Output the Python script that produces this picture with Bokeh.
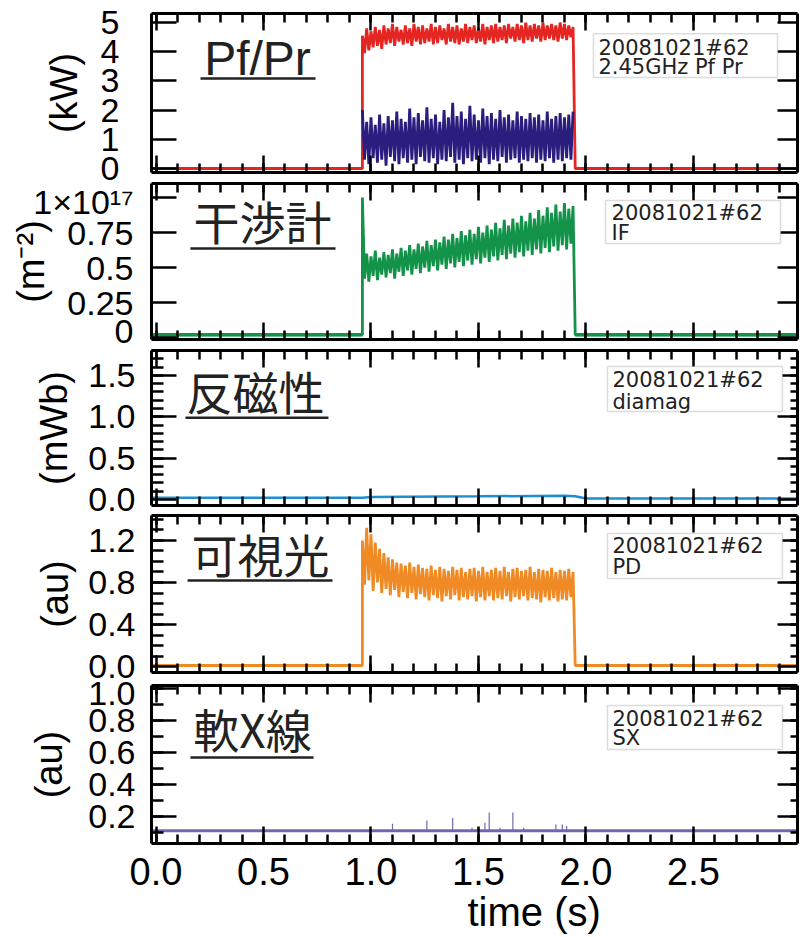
import numpy as np
from bokeh.plotting import figure
from bokeh.layouts import column
from bokeh.models import (Range1d, LinearAxis, FixedTicker, SingleIntervalTicker,
                          PrintfTickFormatter, CustomJSTickFormatter, Label, Title,
                          BoxAnnotation)
from bokeh.embed import file_html
from bokeh.resources import INLINE

# ---------------------------------------------------------------- data ----
SHOT = "20081021#62"

# plasma phase sampled every 10 ms, before/after phases as flat baselines
t_on = np.round(np.arange(0.96, 1.945, 0.01), 2)      # 0.96 ... 1.94 s
t_pre = [-0.021, 0.96]
t_post = [1.95, 2.984]

# 2.45 GHz forward power Pf (kW)
pf_pre = [0.0, 0.0]
pf_on = [
    4.55, 3.95, 4.80, 4.05, 4.70, 4.15, 4.85, 4.20, 4.75, 4.10,
    4.90, 4.25, 4.80, 4.30, 4.95, 4.20, 4.85, 4.35, 4.75, 4.25,
    4.90, 4.30, 4.80, 4.20, 4.95, 4.35, 4.85, 4.25, 4.90, 4.30,
    4.80, 4.35, 4.95, 4.25, 4.85, 4.30, 4.90, 4.40, 4.80, 4.25,
    4.95, 4.35, 4.85, 4.30, 4.90, 4.25, 4.80, 4.35, 4.95, 4.30,
    4.85, 4.40, 4.90, 4.30, 4.80, 4.35, 4.95, 4.25, 4.85, 4.40,
    4.90, 4.30, 4.95, 4.35, 4.85, 4.40, 4.90, 4.30, 4.95, 4.45,
    4.85, 4.35, 4.95, 4.40, 4.90, 4.30, 5.00, 4.40, 4.90, 4.35,
    4.95, 4.45, 4.90, 4.35, 5.00, 4.40, 4.90, 4.45, 4.95, 4.40,
    4.90, 4.35, 5.00, 4.45, 4.95, 4.40, 4.90, 4.50, 4.85,
]
pf_post = [0.0, 0.0]

# reflected power Pr (kW)
pr_on = [
    2.00, 0.30, 1.60, 0.15, 1.75, 0.35, 1.50, 0.20, 1.85, 0.30,
    1.55, 0.10, 1.80, 0.40, 1.65, 0.25, 1.95, 0.15, 1.70, 0.35,
    1.60, 0.20, 2.05, 0.30, 1.75, 0.15, 1.90, 0.40, 1.65, 0.25,
    2.10, 0.20, 1.70, 0.35, 1.85, 0.15, 1.60, 0.30, 2.00, 0.25,
    1.75, 0.40, 2.25, 0.20, 1.80, 0.30, 1.95, 0.15, 1.70, 0.35,
    2.15, 0.25, 1.85, 0.30, 1.65, 0.20, 2.05, 0.35, 1.80, 0.15,
    1.90, 0.30, 1.70, 0.25, 2.00, 0.40, 1.75, 0.20, 1.85, 0.30,
    1.65, 0.35, 1.95, 0.20, 1.80, 0.30, 1.70, 0.25, 1.90, 0.35,
    1.75, 0.20, 1.85, 0.30, 1.65, 0.25, 1.95, 0.35, 1.70, 0.20,
    1.80, 0.30, 1.90, 0.25, 1.75, 0.35, 1.85, 0.30, 1.95,
]

# interferometer line density (1e17 m^-2)
if_pre = [0.02, 0.02]
if_on = [
    1.00, 0.42, 0.60, 0.40, 0.58, 0.44, 0.62, 0.41, 0.57, 0.45,
    0.61, 0.43, 0.59, 0.46, 0.63, 0.42, 0.60, 0.47, 0.64, 0.44,
    0.62, 0.48, 0.66, 0.45, 0.63, 0.49, 0.67, 0.46, 0.65, 0.50,
    0.69, 0.47, 0.66, 0.51, 0.70, 0.48, 0.68, 0.52, 0.72, 0.49,
    0.70, 0.53, 0.74, 0.50, 0.71, 0.54, 0.76, 0.51, 0.73, 0.55,
    0.77, 0.52, 0.74, 0.56, 0.79, 0.53, 0.75, 0.57, 0.80, 0.54,
    0.77, 0.58, 0.82, 0.55, 0.78, 0.59, 0.84, 0.56, 0.80, 0.60,
    0.85, 0.57, 0.82, 0.61, 0.87, 0.58, 0.83, 0.62, 0.89, 0.59,
    0.85, 0.63, 0.91, 0.60, 0.87, 0.64, 0.93, 0.61, 0.89, 0.65,
    0.95, 0.62, 0.90, 0.66, 0.96, 0.63, 0.92, 0.67, 0.94,
]
if_post = [0.02, 0.02]

# diamagnetic flux (mWb)
dia_t = [-0.021, 0.50, 0.96, 1.00, 1.50, 1.90, 1.95, 2.00, 2.50, 2.984]
dia_v = [0.020, 0.020, 0.022, 0.030, 0.038, 0.045, 0.040, 0.012, 0.012, 0.012]

# visible light photodiode (au)
pd_pre = [0.01, 0.01]
pd_on = [
    1.20, 0.78, 1.32, 0.82, 1.26, 0.72, 1.18, 0.80, 1.12, 0.70,
    1.08, 0.74, 1.04, 0.68, 1.02, 0.73, 0.99, 0.66, 0.98, 0.71,
    0.96, 0.65, 0.99, 0.70, 0.95, 0.64, 0.97, 0.69, 0.94, 0.66,
    0.93, 0.63, 0.96, 0.68, 0.92, 0.65, 0.95, 0.62, 0.93, 0.67,
    0.91, 0.64, 0.95, 0.68, 0.92, 0.63, 0.94, 0.66, 0.90, 0.64,
    0.93, 0.67, 0.94, 0.62, 0.91, 0.66, 0.95, 0.63, 0.90, 0.67,
    0.92, 0.63, 0.94, 0.65, 0.91, 0.64, 0.95, 0.67, 0.90, 0.62,
    0.93, 0.66, 0.94, 0.64, 0.91, 0.67, 0.92, 0.63, 0.95, 0.65,
    0.90, 0.64, 0.93, 0.61, 0.92, 0.66, 0.91, 0.63, 0.94, 0.65,
    0.90, 0.62, 0.92, 0.64, 0.91, 0.63, 0.93, 0.66, 0.90,
]
pd_post = [0.01, 0.01]

# soft X-ray (au): flat baseline with a few isolated bursts
sx_t = [-0.021, 2.984]
sx_v = [0.11, 0.11]
sx_spike_t = [1.10, 1.26, 1.38, 1.47, 1.53, 1.55, 1.60, 1.66, 1.71, 1.86, 1.89, 1.91]
sx_spike_v = [0.155, 0.175, 0.19, 0.13, 0.16, 0.225, 0.13, 0.225, 0.13, 0.15, 0.15, 0.14]

# axis ticks
PF_TICKS = [0, 1, 2, 3, 4, 5]
IF_TICKS = [0.0, 0.25, 0.5, 0.75, 1.0]
IF_TICK_LABELS = ["0", "0.25", "0.5", "0.75", "1×10¹⁷"]
DIA_TICKS = [0.0, 0.5, 1.0, 1.5]
PD_TICKS = [0.0, 0.4, 0.8, 1.2]
SX_TICKS = [0.2, 0.4, 0.6, 0.8, 1.0]

# ---------------------------------------------------------------- style ---
FONT = "Liberation Sans"
CJK = "Noto Sans CJK JP"
BOX_FONT = "DejaVu Sans"
INK = "#222222"
NOISY = 2.8   # stroke width of the densely sampled plasma-phase traces

x_range = Range1d(-0.021, 2.984)
blank = CustomJSTickFormatter(code="return ''")


def style_axis(ax, major_in, minor_in):
    ax.axis_line_width = 3
    ax.axis_line_color = "black"
    ax.major_tick_in = major_in
    ax.major_tick_out = 0
    ax.minor_tick_in = minor_in
    ax.minor_tick_out = 0
    ax.major_tick_line_width = 2.5
    ax.minor_tick_line_width = 2.5
    ax.major_tick_line_color = "black"
    ax.minor_tick_line_color = "black" if minor_in else None


def panel(height, y_lo, y_hi, top, bottom):
    p = figure(width=800, height=height, x_range=x_range, y_range=Range1d(y_lo, y_hi),
               output_backend="svg", toolbar_location=None,
               x_axis_location=None, y_axis_location=None,
               min_border_left=151, min_border_right=3,
               min_border_top=top, min_border_bottom=bottom,
               outline_line_color=None, background_fill_color="white",
               border_fill_color="white")
    p.grid.visible = False
    return p


def time_axes(p, labelled=False):
    for loc in ("above", "below"):
        ax = LinearAxis(ticker=SingleIntervalTicker(interval=0.5, num_minor_ticks=5))
        style_axis(ax, 17, 9)
        if loc == "below" and labelled:
            ax.formatter = PrintfTickFormatter(format="%.1f")
            ax.major_label_text_font = FONT
            ax.major_label_text_font_size = "38px"
            ax.major_label_text_color = "black"
            ax.major_label_standoff = 14
        else:
            ax.formatter = blank
            ax.major_label_standoff = 0
        p.add_layout(ax, loc)


def value_axes(p, ticks, minor, formatter, label, standoff, label_standoff,
               minor_len, overrides=None):
    left = LinearAxis(ticker=FixedTicker(ticks=ticks, minor_ticks=minor), formatter=formatter)
    style_axis(left, 25, minor_len)
    left.major_label_text_font = FONT
    left.major_label_text_font_size = "34px"
    left.major_label_text_color = "black"
    left.major_label_standoff = standoff
    if overrides:
        left.major_label_overrides = overrides
    left.axis_label = label
    left.axis_label_text_font = FONT
    left.axis_label_text_font_size = "38px"
    left.axis_label_text_font_style = "normal"
    left.axis_label_text_color = "black"
    left.axis_label_standoff = label_standoff
    p.add_layout(left, "left")

    right = LinearAxis(ticker=FixedTicker(ticks=ticks, minor_ticks=minor), formatter=blank)
    style_axis(right, 20, 7 if minor_len else 0)
    right.major_label_standoff = 0
    p.add_layout(right, "right")


def title(p, text, x, y, font, size, ux0, ux1, uy):
    p.add_layout(Label(x=x, y=y, text=text, text_font=font, text_font_size=size,
                       text_color=INK, text_align="center", text_baseline="middle"))
    p.segment(x0=[ux0], y0=[uy], x1=[ux1], y1=[uy], line_color=INK, line_width=2.5)


def tag(p, text, box, tx, ty1, ty2):
    """Shot-number box: box = (left, right, top, bottom) in data units."""
    left, right, top, bottom = box
    p.add_layout(BoxAnnotation(left=left, right=right, top=top, bottom=bottom,
                               fill_color="white", fill_alpha=1.0,
                               line_color="#8a8a8a", line_width=1.5))
    for txt, ty in ((SHOT, ty1), (text, ty2)):
        p.add_layout(Label(x=tx, y=ty, text=txt, text_font=BOX_FONT,
                           text_font_size="21px", text_color=INK,
                           text_align="left", text_baseline="middle"))


# ------------------------------------------------------------- panel 1 ----
p1 = panel(182, -0.137, 5.31, 13, 10)
time_axes(p1)
value_axes(p1, PF_TICKS, [], PrintfTickFormatter(format="%d"), "(kW)", 32, 13, 0)
p1.line(t_pre + list(t_on) + t_post, pf_pre + pf_on + pf_post,
        line_color="#e52521", line_width=NOISY)
p1.line(t_pre, pf_pre, line_color="#e52521", line_width=2.5)
p1.line(t_post, pf_post, line_color="#e52521", line_width=2.5)
p1.line(t_on, pr_on, line_color="#2b1d7e", line_width=NOISY)
title(p1, "Pf/Pr", 0.472, 3.78, FONT, "48px", 0.207, 0.742, 3.08)
tag(p1, "2.45GHz Pf Pr", (2.035, 2.891, 4.62, 3.12), 2.058, 4.13, 3.49)

# ------------------------------------------------------------- panel 2 ----
p2 = panel(167, -0.014, 1.100, 1, 10)
time_axes(p2)
value_axes(p2, IF_TICKS, [], PrintfTickFormatter(format="%.2f"), "(m⁻²)", 18, -22, 0,
           overrides=dict(zip(IF_TICKS, IF_TICK_LABELS)))
p2.line(t_pre + list(t_on) + t_post, if_pre + if_on + if_post,
        line_color="#13934a", line_width=NOISY)
p2.line(t_pre, if_pre, line_color="#13934a", line_width=3.5)
p2.line(t_post, if_post, line_color="#13934a", line_width=3.5)
title(p2, "干渉計", 0.495, 0.836, CJK, "46px", 0.160, 0.835, 0.636)
tag(p2, "IF", (2.091, 2.905, 0.979, 0.671), 2.119, 0.890, 0.743)

# ------------------------------------------------------------- panel 3 ----
p3 = panel(165, -0.073, 1.802, 1, 9)
time_axes(p3)
value_axes(p3, DIA_TICKS, list(np.round(np.arange(0.1, 1.85, 0.1), 1)),
           PrintfTickFormatter(format="%.1f"), "(mWb)", 16, 10, 12)
p3.line(dia_t, dia_v, line_color="#1d8fd1", line_width=2.5)
title(p3, "反磁性", 0.463, 1.33, CJK, "46px", 0.137, 0.802, 0.99)
tag(p3, "diamag", (2.100, 2.914, 1.608, 1.064), 2.123, 1.451, 1.185)

# ------------------------------------------------------------- panel 4 ----
p4 = panel(167, -0.057, 1.438, 1, 9)
time_axes(p4)
value_axes(p4, PD_TICKS, list(np.round(np.arange(0.1, 1.45, 0.1), 1)),
           PrintfTickFormatter(format="%.1f"), "(au)", 16, 9, 12)
p4.line(t_pre + list(t_on) + t_post, pd_pre + pd_on + pd_post,
        line_color="#f08a24", line_width=NOISY)
p4.line(t_pre, pd_pre, line_color="#f08a24", line_width=3)
p4.line(t_post, pd_post, line_color="#f08a24", line_width=3)
title(p4, "可視光", 0.486, 1.08, CJK, "46px", 0.147, 0.821, 0.819)
tag(p4, "PD", (2.100, 2.914, 1.267, 0.838), 2.123, 1.143, 0.943)

# ------------------------------------------------------------- panel 5 ----
p5 = panel(256, 0.031, 1.019, 4, 94)
time_axes(p5, labelled=True)
value_axes(p5, SX_TICKS, list(np.round(np.arange(0.1, 1.05, 0.1), 1)),
           PrintfTickFormatter(format="%.1f"), "(au)", 16, 15, 12)
p5.line(sx_t, sx_v, line_color="#6f68b0", line_width=3)
p5.segment(x0=sx_spike_t, y0=[sx_v[0]] * len(sx_spike_t), x1=sx_spike_t, y1=sx_spike_v,
           line_color="#6f68b0", line_width=1.2)
title(p5, "軟X線", 0.449, 0.756, CJK, "46px", 0.160, 0.733, 0.569)
tag(p5, "SX", (2.100, 2.914, 0.894, 0.619), 2.123, 0.812, 0.688)
p5.add_layout(Title(text="time (s)", align="left", offset=316, standoff=0,
                    text_font=FONT, text_font_size="40px", text_font_style="normal",
                    text_color="black"), "below")

layout = column(p1, p2, p3, p4, p5, spacing=0)
open("out.html", "w").write(file_html(layout, INLINE))
